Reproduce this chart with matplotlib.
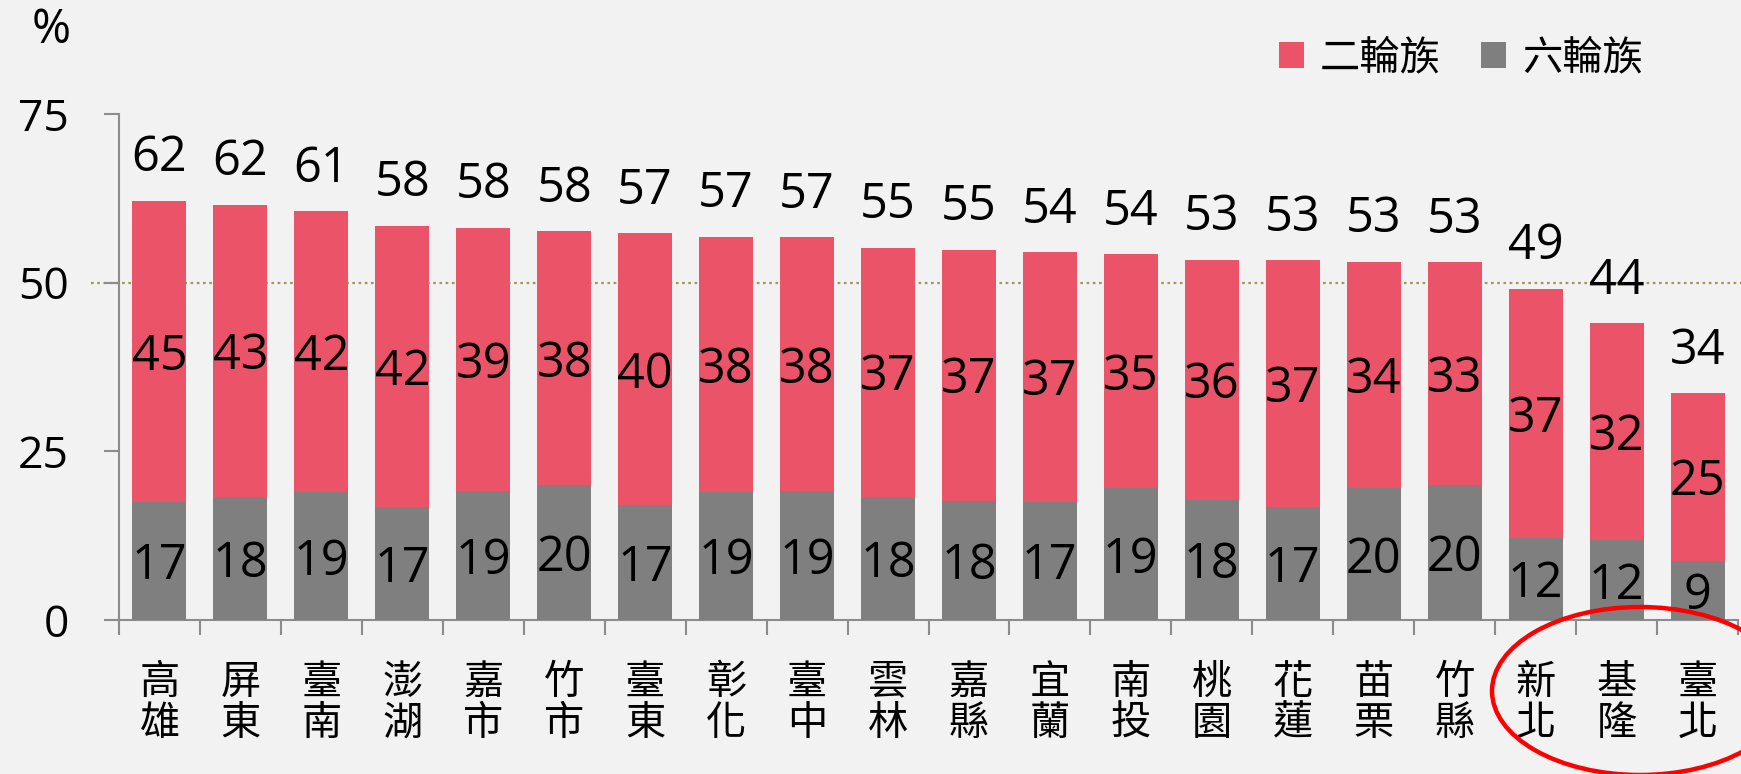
import matplotlib
matplotlib.use("Agg")
import matplotlib.pyplot as plt
from matplotlib.patches import Ellipse
import numpy as np

plt.rcParams['font.family'] = ['Noto Sans CJK TC', 'DejaVu Sans']
NUMFONT = ['Open Sans', 'Noto Sans CJK TC', 'DejaVu Sans']

categories = ['高雄', '屏東', '臺南', '澎湖', '嘉市', '竹市', '臺東', '彰化', '臺中', '雲林',
              '嘉縣', '宜蘭', '南投', '桃園', '花蓮', '苗栗', '竹縣', '新北', '基隆', '臺北']
six_wheel = [17.5, 18.2, 18.9, 16.8, 19.1, 20.0, 17.0, 19.0, 19.1, 18.3,
             17.7, 17.5, 19.5, 17.8, 16.7, 19.5, 20.0, 12.1, 11.8, 8.8]
two_wheel = [44.6, 43.3, 41.7, 41.6, 39.0, 37.6, 40.3, 37.8, 37.6, 36.9,
             37.2, 37.0, 34.7, 35.6, 36.6, 33.6, 33.0, 37.0, 32.2, 24.8]
six_labels = [17, 18, 19, 17, 19, 20, 17, 19, 19, 18, 18, 17, 19, 18, 17, 20, 20, 12, 12, 9]
two_labels = [45, 43, 42, 42, 39, 38, 40, 38, 38, 37, 37, 37, 35, 36, 37, 34, 33, 37, 32, 25]
total_labels = [62, 62, 61, 58, 58, 58, 57, 57, 57, 55, 55, 54, 54, 53, 53, 53, 53, 49, 44, 34]
yticks = [0, 25, 50, 75]

PINK = '#EB5369'
GRAY = '#7F7F7F'
BG = '#F2F2F2'
W, H = 1741, 774

fig = plt.figure(figsize=(W / 100, H / 100), dpi=100, facecolor=BG)
ax = fig.add_axes([119 / W, 1 - 620 / H, (1738 - 119) / W, (620 - 114) / H])
ax.set_facecolor(BG)

x = np.arange(len(categories))
six = np.array(six_wheel)
two = np.array(two_wheel)
b1 = ax.bar(x, six, width=0.667, color=GRAY, zorder=3, label='六輪族')
b2 = ax.bar(x, two, width=0.667, bottom=six, color=PINK, zorder=3, label='二輪族')

# reference line at 50 (extends slightly left of axis)
ax.plot([-0.84, 19.55], [50, 50], linestyle=(0, (1.2, 1.6)), color='#A39660',
        linewidth=1.6, zorder=1, clip_on=False)

NUM_FS = 35
for i in range(len(categories)):
    ax.annotate(str(six_labels[i]), (x[i], six[i] / 2), xytext=(0, -4),
                textcoords='offset points', ha='center', va='center',
                fontsize=NUM_FS, color='black', zorder=5, family=NUMFONT)
    ax.annotate(str(two_labels[i]), (x[i], six[i] + two[i] / 2), xytext=(0, -4),
                textcoords='offset points', ha='center', va='center',
                fontsize=NUM_FS, color='black', zorder=5, family=NUMFONT)
    ax.annotate(str(total_labels[i]), (x[i], six[i] + two[i]), xytext=(0, 30.5),
                textcoords='offset points', ha='center', va='center',
                fontsize=NUM_FS, color='black', zorder=5, family=NUMFONT)

ax.set_xlim(-0.5, len(categories) - 0.5)
ax.set_ylim(0, 75)
ax.set_yticks(yticks)
ax.set_yticklabels([str(v) for v in yticks], fontsize=32, family=NUMFONT)
ax.tick_params(axis='y', length=11, width=1.5, color='#8C8C8C', pad=25)

ax.set_xticks(x)
ax.set_xticklabels(['\n'.join(c) for c in categories], fontsize=29, linespacing=1.0)
ax.tick_params(axis='x', which='major', length=0, pad=30)
ax.set_xticks(np.arange(-0.5, len(categories)), minor=True)
ax.tick_params(axis='x', which='minor', length=11, width=1.5, color='#8C8C8C', direction='out')

for s in ['top', 'right']:
    ax.spines[s].set_visible(False)
for s in ['left', 'bottom']:
    ax.spines[s].set_color('#8C8C8C')
    ax.spines[s].set_linewidth(1.5)

fig.text(51 / W, 1 - 30 / H, '%', ha='center', va='center', fontsize=34, family=NUMFONT)

leg = fig.legend(handles=[b2, b1], loc='center', bbox_to_anchor=(1461 / W, 1 - 58 / H),
                 ncol=2, frameon=False, fontsize=29, handlelength=0.62, handleheight=0.62,
                 handletextpad=0.4, columnspacing=1.0, borderpad=0, borderaxespad=0)

ell = Ellipse((1640 / W, 1 - 691 / H), 296 / W, 168 / H, transform=fig.transFigure,
              fill=False, edgecolor='#FF0000', linewidth=3.2, zorder=10)
fig.add_artist(ell)

fig.savefig('out.png', dpi=100, facecolor=BG)
